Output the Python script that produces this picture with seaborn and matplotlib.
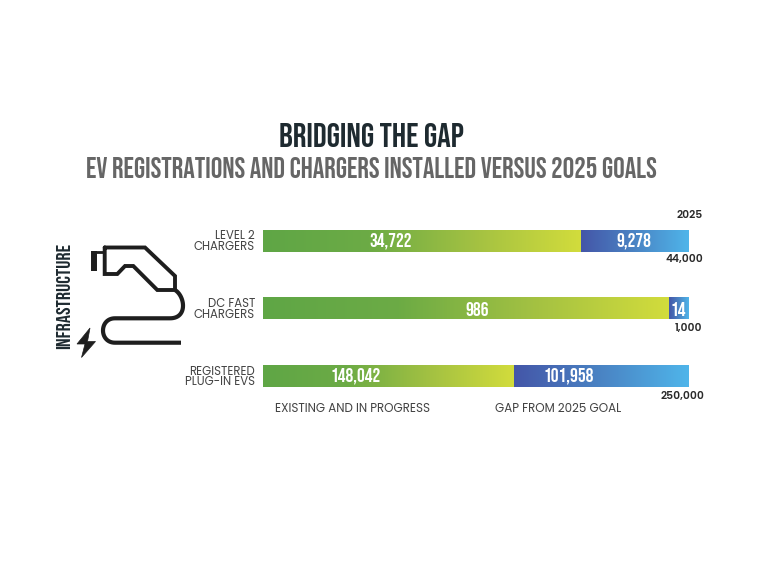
import numpy as np
import pandas as pd
import matplotlib
matplotlib.use('Agg')
import matplotlib.pyplot as plt
from matplotlib.colors import LinearSegmentedColormap
import seaborn as sns

# values
categories = ['LEVEL 2\nCHARGERS', 'DC FAST\nCHARGERS', 'REGISTERED\nPLUG-IN EVS']
existing_labels = ['34,722', '986', '148,042']
gap_labels = ['9,278', '14', '101,958']
goal_labels = ['44,000', '1,000', '250,000']
# drawn length of the green part, % of the bar (the picture is not quite to scale)
existing_share = [74.8, 95.5, 59.0]
goal_share = [100, 100, 100]

sns.set_theme(style='white')
narrow = ['Bebas Neue', 'Roboto', 'DejaVu Sans']
wide = ['Poppins', 'Lato', 'DejaVu Sans']
plt.rcParams['font.family'] = wide

df = pd.DataFrame({'category': categories, 'existing': existing_share, 'goal': goal_share})

W, H = 768, 576
fig = plt.figure(figsize=(7.68, 5.76), dpi=100)
ax = fig.add_axes([263 / W, 1 - 410.1 / H, 425 / W, 203.4 / H])

sns.barplot(data=df, y='category', x='goal', color='#4fb3e8', width=0.325, saturation=1, ax=ax)
sns.barplot(data=df, y='category', x='existing', color='#5fa646', width=0.325, saturation=1, ax=ax)

greens = LinearSegmentedColormap.from_list('g', ['#5fa646', '#6cab45', '#a3c142', '#d2dc3c'])
blues = LinearSegmentedColormap.from_list('b', ['#4456a8', '#4a84c4', '#4fb5ea'])
ramp = np.linspace(0, 1, 256).reshape(1, -1)

# gradients clipped to the bars seaborn drew
goal_bars = ax.patches[:3]
existing_bars = ax.patches[3:6]
for i in range(3):
    for b, cmap, z in [(goal_bars[i], blues, 3), (existing_bars[i], greens, 4)]:
        x0, y0 = b.get_x(), b.get_y()
        x1, y1 = x0 + b.get_width(), y0 + b.get_height()
        # the blue ramp only runs over the gap part
        if cmap is blues:
            x0 = existing_share[i]
        im = ax.imshow(ramp, extent=[x0, x1, y1, y0], aspect='auto', cmap=cmap, zorder=z)
        im.set_clip_path(b)

ax.set_xlim(0, 100)
ax.set_ylim(2.5, -0.5)
ax.set_xlabel('')
ax.set_ylabel('')
ax.set_xticks([])
ax.tick_params(axis='y', length=0, pad=5.8)
ax.set_yticks(range(3))
ax.set_yticklabels(categories, family=wide, fontsize=8.4, color='#444444', ha='right', linespacing=0.85)
sns.despine(ax=ax, left=True, bottom=True)
ax.patch.set_alpha(0)

# pixel overlay for text and icon
ov = fig.add_axes([0, 0, 1, 1], zorder=5)
ov.set_xlim(0, W)
ov.set_ylim(H, 0)
ov.axis('off')

ov.text(371, 135, 'BRIDGING THE GAP', family=narrow, fontsize=24.5, color='#1e2a30', ha='center', va='center')
ov.text(371, 168, 'EV REGISTRATIONS AND CHARGERS INSTALLED VERSUS 2025 GOALS', family=narrow, fontsize=20.7,
        color='#666666', ha='center', va='center')

for x, y, s in [(391, 241, existing_labels[0]), (477, 309, existing_labels[1]), (356, 376, existing_labels[2]),
                (634, 241, gap_labels[0]), (678, 309, gap_labels[1]), (569, 376, gap_labels[2])]:
    ov.text(x, y, s, family=narrow, fontsize=14, color='white', ha='center', va='center')

for x, y, s in [(703, 215, '2025'), (703, 259.5, goal_labels[0]), (702, 328.5, goal_labels[1]), (704, 396, goal_labels[2])]:
    ov.text(x, y, s, family=wide, fontsize=7.7, weight='semibold', color='#2b2b2b', ha='right', va='center')

ov.text(275, 409, 'EXISTING AND IN PROGRESS', family=wide, fontsize=8.55, color='#444444', ha='left', va='center')
ov.text(495, 409, 'GAP FROM 2025 GOAL', family=wide, fontsize=8.55, color='#444444', ha='left', va='center')
ov.text(63, 296, 'INFRASTRUCTURE', family=narrow, fontsize=14.5, color='#1e2a30', rotation=90, ha='center', va='center')

# charger icon
ic = '#1e1e1e'
head_x = [104.7, 145, 175, 175, 157.3, 133.3, 125, 117.3, 104.7, 104.7]
head_y = [247.5, 247.5, 276, 290, 290, 266, 266, 274, 274, 247.5]
ov.plot(head_x, head_y, color=ic, lw=2.8, solid_joinstyle='miter')
ov.plot([93, 103], [252, 252], color=ic, lw=2)
ov.plot([93.7, 93.7], [250.7, 270.5], color=ic, lw=4.3, solid_capstyle='butt')
t = np.linspace(0, 1, 30)
cx1 = (1 - t) ** 3 * 175 + 3 * (1 - t) ** 2 * t * 185 + 3 * (1 - t) * t ** 2 * 188 + t ** 3 * 170
cy1 = (1 - t) ** 3 * 290 + 3 * (1 - t) ** 2 * t * 296 + 3 * (1 - t) * t ** 2 * 318.3 + t ** 3 * 318.3
cx2 = (1 - t) ** 3 * 115 + 3 * (1 - t) ** 2 * t * 99 + 3 * (1 - t) * t ** 2 * 99 + t ** 3 * 115
cy2 = (1 - t) ** 3 * 318.3 + 3 * (1 - t) ** 2 * t * 318.3 + 3 * (1 - t) * t ** 2 * 342.7 + t ** 3 * 342.7
ov.plot(np.r_[cx1, cx2, 181], np.r_[cy1, cy2, 342.7], color=ic, lw=3, solid_capstyle='butt')
ov.fill([90, 77, 85, 81.5, 95.5, 87.5], [328, 344, 344, 357.5, 341.5, 341.5], color=ic, lw=0.5)

fig.savefig('out.png', dpi=100, facecolor='white')
